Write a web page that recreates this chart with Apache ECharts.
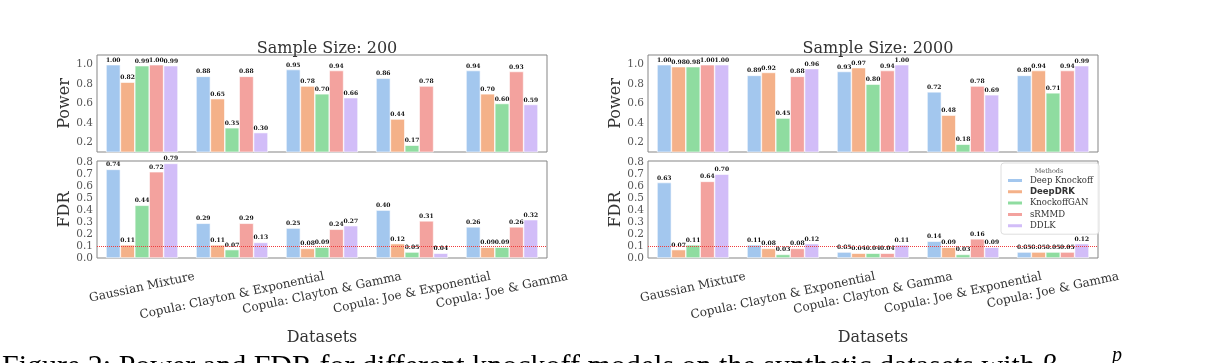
<!DOCTYPE html>
<html>
<head>
<meta charset="utf-8">
<script src="https://cdn.jsdelivr.net/npm/echarts@6/dist/echarts.min.js"></script>
<style>
html,body{margin:0;padding:0;background:#fff;}
#chart{width:1207px;height:363px;}
</style>
</head>
<body>
<div id="chart"></div>
<script>
// ---------- data ----------
const categories = ['Gaussian Mixture', 'Copula: Clayton & Exponential', 'Copula: Clayton & Gamma', 'Copula: Joe & Exponential', 'Copula: Joe & Gamma'];
const methods = ['Deep Knockoff', 'DeepDRK', 'KnockoffGAN', 'sRMMD', 'DDLK'];
const panelTitles = ['Sample Size: 200', 'Sample Size: 2000'];
const fdrTarget = 0.1;

// Sample size 200 - Power
const power200_DeepKnockoff = [1.00, 0.88, 0.95, 0.86, 0.94];
const power200_DeepDRK      = [0.82, 0.65, 0.78, 0.44, 0.70];
const power200_KnockoffGAN  = [0.99, 0.35, 0.70, 0.17, 0.60];
const power200_sRMMD        = [1.00, 0.88, 0.94, 0.78, 0.93];
const power200_DDLK         = [0.99, 0.30, 0.66, null, 0.59];
// Sample size 200 - FDR
const fdr200_DeepKnockoff = [0.74, 0.29, 0.25, 0.40, 0.26];
const fdr200_DeepDRK      = [0.11, 0.11, 0.08, 0.12, 0.09];
const fdr200_KnockoffGAN  = [0.44, 0.07, 0.09, 0.05, 0.09];
const fdr200_sRMMD        = [0.72, 0.29, 0.24, 0.31, 0.26];
const fdr200_DDLK         = [0.79, 0.13, 0.27, 0.04, 0.32];
// Sample size 2000 - Power
const power2000_DeepKnockoff = [1.00, 0.89, 0.93, 0.72, 0.89];
const power2000_DeepDRK      = [0.98, 0.92, 0.97, 0.48, 0.94];
const power2000_KnockoffGAN  = [0.98, 0.45, 0.80, 0.18, 0.71];
const power2000_sRMMD        = [1.00, 0.88, 0.94, 0.78, 0.94];
const power2000_DDLK         = [1.00, 0.96, 1.00, 0.69, 0.99];
// Sample size 2000 - FDR
const fdr2000_DeepKnockoff = [0.63, 0.11, 0.05, 0.14, 0.05];
const fdr2000_DeepDRK      = [0.07, 0.08, 0.04, 0.09, 0.05];
const fdr2000_KnockoffGAN  = [0.11, 0.03, 0.04, 0.03, 0.05];
const fdr2000_sRMMD        = [0.64, 0.08, 0.04, 0.16, 0.05];
const fdr2000_DDLK         = [0.70, 0.12, 0.11, 0.09, 0.12];

// ---------- layout / style ----------
const colors = ['#a3c7ee', '#f4b189', '#8fdca0', '#f3a29e', '#d2bdf8'];
const SERIF = 'DejaVu Serif';
const panels = [
  {data: [power200_DeepKnockoff, power200_DeepDRK, power200_KnockoffGAN, power200_sRMMD, power200_DDLK], kind: 'power', left: 97, top: 55},
  {data: [fdr200_DeepKnockoff, fdr200_DeepDRK, fdr200_KnockoffGAN, fdr200_sRMMD, fdr200_DDLK], kind: 'fdr', left: 97, top: 161},
  {data: [power2000_DeepKnockoff, power2000_DeepDRK, power2000_KnockoffGAN, power2000_sRMMD, power2000_DDLK], kind: 'power', left: 648, top: 55},
  {data: [fdr2000_DeepKnockoff, fdr2000_DeepDRK, fdr2000_KnockoffGAN, fdr2000_sRMMD, fdr2000_DDLK], kind: 'fdr', left: 648, top: 161}
];
const GW = 450, GH = 97;

// rotated, centred x labels (matplotlib-like: rotated bbox top just below the axis)
const ctx = document.createElement('canvas').getContext('2d');
const XFS = 12;
const XROT = 12;
ctx.font = XFS + 'px "' + SERIF + '"';
const ROT = XROT * Math.PI / 180;
const xRich = {};
categories.forEach((c, i) => {
  const w = ctx.measureText(c).width;
  const d = 11.5 + (w * Math.sin(ROT) + XFS * 1.17 * Math.cos(ROT)) / 2;
  xRich['r' + i] = {fontFamily: SERIF, fontSize: XFS, color: '#333',
    padding: [2 * d * Math.cos(ROT), 2 * d * Math.sin(ROT), 0, 0]};
});

function tenthFormatter(lo, hi, step) {
  return function (v) {
    const t = Math.round(v * 10);
    if (Math.abs(v * 10 - t) > 1e-6) return '';
    if (t < lo || t > hi || (t - lo) % step !== 0) return '';
    return (t / 10).toFixed(1);
  };
}

const grid = [], xAxis = [], yAxis = [], series = [];
panels.forEach((p, pi) => {
  grid.push({left: p.left, top: p.top, width: GW, height: GH, show: true, borderColor: '#858585', borderWidth: 1, backgroundColor: 'transparent'});
  const isFdr = p.kind === 'fdr';
  xAxis.push({
    type: 'category', gridIndex: pi, data: categories,
    axisLine: {show: false}, axisTick: {show: false},
    axisLabel: isFdr ? {show: true, interval: 0, rotate: XROT, margin: 0, align: 'center', verticalAlign: 'middle',
      hideOverlap: false, fontFamily: SERIF, fontSize: XFS, color: '#333',
      formatter: (v, i) => '{r' + i + '|' + v + '}', rich: xRich} : {show: false},
    name: isFdr ? 'Datasets' : '', nameLocation: 'middle', nameGap: 72,
    nameTextStyle: {fontFamily: SERIF, fontSize: 16, color: '#333'}
  });
  yAxis.push({
    type: 'value', gridIndex: pi,
    min: isFdr ? 0 : 0.1, max: isFdr ? 0.81 : 1.1, interval: 0.1,
    splitLine: {show: false}, axisLine: {show: false}, axisTick: {show: false},
    axisLabel: {margin: 4, fontFamily: SERIF, fontSize: 10.5, color: '#555',
      formatter: isFdr ? tenthFormatter(0, 8, 1) : tenthFormatter(2, 10, 2)},
    name: isFdr ? 'FDR' : 'Power', nameLocation: 'middle', nameGap: 22,
    nameTextStyle: {fontFamily: SERIF, fontSize: 16, color: '#333'}
  });
  p.data.forEach((vals, mi) => {
    const s = {
      type: 'bar', name: methods[mi], xAxisIndex: pi, yAxisIndex: pi, data: vals,
      barGap: '0%', barCategoryGap: '20%',
      itemStyle: {color: colors[mi], borderColor: '#fff', borderWidth: 0.6},
      label: {show: true, position: 'top', distance: 1.5,
        formatter: q => (q.value == null ? '' : q.value.toFixed(2)),
        fontFamily: SERIF, fontWeight: 'bold', fontSize: 6, color: '#111'}
    };
    if (isFdr && mi === methods.length - 1) {
      s.markLine = {silent: true, symbol: 'none', label: {show: false}, z: 10,
        lineStyle: {type: 'dotted', color: '#f03c3c', width: 1},
        data: [{yAxis: fdrTarget}]};
    }
    series.push(s);
  });
});

const option = {
  animation: false,
  title: [
    {text: panelTitles[0], left: 97 + GW / 2, top: 36, textAlign: 'center', textStyle: {fontFamily: SERIF, fontSize: 16, fontWeight: 'normal', color: '#333'}},
    {text: panelTitles[1], left: 648 + GW / 2, top: 36, textAlign: 'center', textStyle: {fontFamily: SERIF, fontSize: 16, fontWeight: 'normal', color: '#333'}}
  ],
  legend: {
    data: methods, orient: 'vertical', left: 1001, top: 163,
    padding: [13, 6, 4, 5], itemWidth: 16, itemHeight: 5, itemGap: 2.3, icon: 'rect',
    backgroundColor: 'rgba(255,255,255,0.85)', borderColor: '#d6d6d6', borderWidth: 0.8, borderRadius: 3,
    textStyle: {fontFamily: SERIF, fontSize: 8.5, color: '#333', padding: [0, 0, 0, 2],
      rich: {b: {fontFamily: 'DejaVu Sans', fontWeight: 'bold', fontSize: 8.5, color: '#333'}}},
    formatter: n => (n === 'DeepDRK' ? '{b|' + n + '}' : n)
  },
  graphic: [
    {type: 'text', z: 100, style: {x: 1049, y: 171, text: 'Methods', textAlign: 'center', textVerticalAlign: 'middle', font: '6.5px "DejaVu Serif"', fill: '#555'}},
    {type: 'text', z: 100, style: {x: 2, y: 352, text: 'Figure 2: Power and FDR for different knockoff models on the synthetic datasets with \u03b2 \u223c', textAlign: 'left', textVerticalAlign: 'top', font: '30px "Liberation Serif"', fill: '#000'}},
    {type: 'text', z: 100, style: {x: 1112, y: 346, text: 'p', textAlign: 'left', textVerticalAlign: 'top', font: 'italic 20px "Liberation Serif"', fill: '#000'}}
  ],
  grid: grid, xAxis: xAxis, yAxis: yAxis, series: series
};

const chart = echarts.init(document.getElementById('chart'), null, {renderer: 'canvas'});
chart.setOption(option);
</script>
</body>
</html>
